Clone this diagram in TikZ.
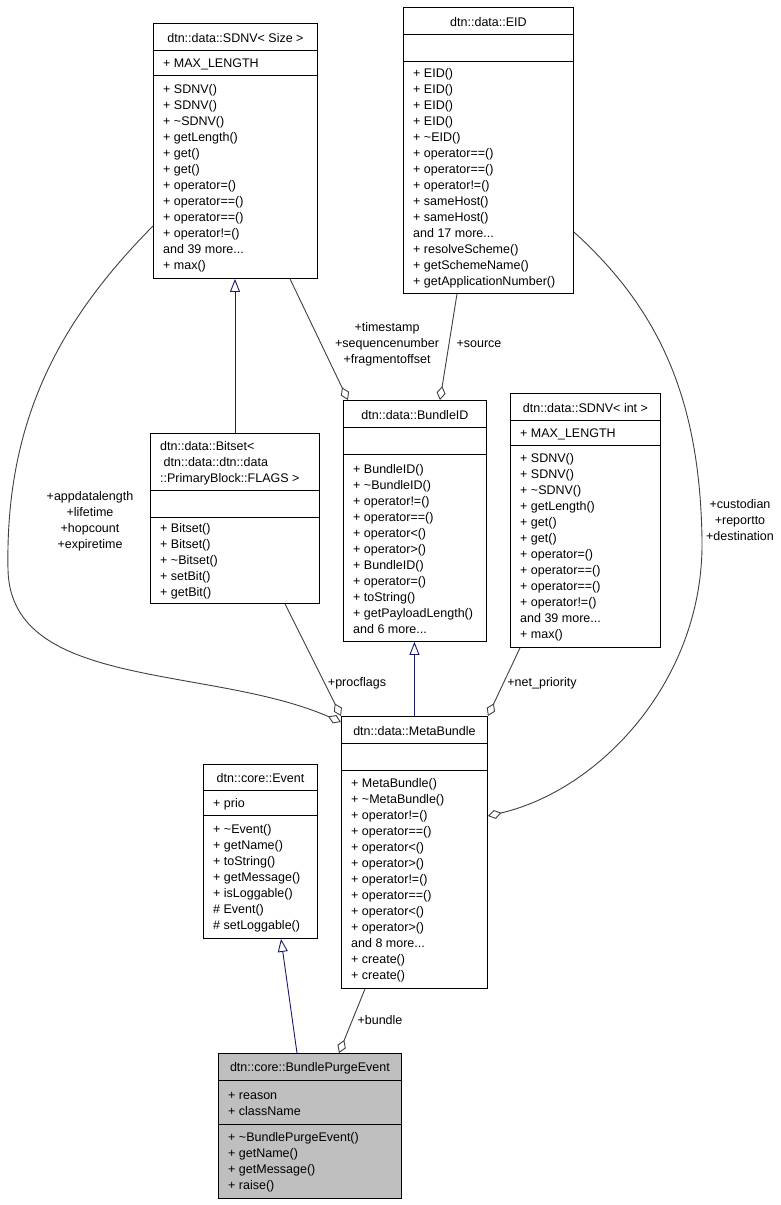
\documentclass[tikz,border=0pt]{standalone}
\usepackage{fontspec}
\setmainfont{Liberation Sans}
\usetikzlibrary{arrows.meta,calc}
\definecolor{inhblue}{HTML}{191970}
\definecolor{compgray}{HTML}{404040}
\definecolor{selfill}{HTML}{BFBFBF}
\tikzset{
 fnt/.style={font=\fontsize{12.5}{16}\selectfont},
 cls/.style={draw=black, line width=0.9pt, inner sep=0pt, anchor=north west, fill=white},
 sep/.style={draw=black, line width=0.9pt},
 ttl/.style={fnt, inner sep=0pt, anchor=center, yshift=-1.5pt},
 mem/.style={fnt, inner sep=0pt, anchor=west, align=left, yshift=-1.5pt},
 inh/.style={draw=inhblue, line width=0.9pt, -{Triangle[open, length=13pt, width=10pt]}},
 comp/.style={draw=compgray, line width=0.9pt, -{Diamond[open, length=14pt, width=9pt]}},
 lbl/.style={fnt, inner sep=0pt, align=center},
}
% name, x, y, w, h1, h2, h3, extra style
\newcommand\clsbox[8]{%
 \node[cls, minimum width=#4, minimum height=#5+#6+#7, #8] (#1) at (#2,#3) {};
 \draw[sep] ($(#1.north west)+(0,#5)$) -- ($(#1.north east)+(0,#5)$);
 \draw[sep] ($(#1.north west)+(0,#5+#6)$) -- ($(#1.north east)+(0,#5+#6)$);
 \coordinate (#1-t) at ($(#1.north)+(0,#5/2)$);
 \coordinate (#1-tl) at ($(#1.north west)+(10,#5/2)$);
 \coordinate (#1-a) at ($(#1.north west)+(10,#5+#6/2)$);
 \coordinate (#1-m) at ($(#1.north west)+(10,#5+#6+#7/2)$);
}
\begin{document}
\begin{tikzpicture}[x=1pt,y=-1pt]
\fill[white] (0,0) rectangle (781,1205);
\useasboundingbox (0,0) rectangle (781,1205);

% ---- classes ----
\clsbox{sdnvs}{153}{23}{164}{27}{25}{203}{}
\node[ttl] (sdnvs-title) at (sdnvs-t) {dtn::data::SDNV< Size >};
\node[mem] (sdnvs-attr) at (sdnvs-a) {+ MAX\_LENGTH};
\node[mem] (sdnvs-meth) at (sdnvs-m) {+ SDNV()\\+ SDNV()\\+ \textasciitilde SDNV()\\+ getLength()\\+ get()\\+ get()\\+ operator=()\\+ operator==()\\+ operator==()\\+ operator!=()\\and 39 more...\\+ max()};

\clsbox{eid}{403}{7}{170}{27}{27}{232}{}
\node[ttl] (eid-title) at (eid-t) {dtn::data::EID};
\node[mem] (eid-meth) at (eid-m) {+ EID()\\+ EID()\\+ EID()\\+ EID()\\+ \textasciitilde EID()\\+ operator==()\\+ operator==()\\+ operator!=()\\+ sameHost()\\+ sameHost()\\and 17 more...\\+ resolveScheme()\\+ getSchemeName()\\+ getApplicationNumber()};

\clsbox{bitset}{150}{433}{169}{57}{27}{86}{}
\node[mem] (bitset-title) at (bitset-tl) {dtn::data::Bitset<\\\hspace*{3.5pt}dtn::data::dtn::data\\::PrimaryBlock::FLAGS >};
\node[mem] (bitset-meth) at (bitset-m) {+ Bitset()\\+ Bitset()\\+ \textasciitilde Bitset()\\+ setBit()\\+ getBit()};

\clsbox{bid}{343}{400}{143}{27}{27}{187}{}
\node[ttl] (bid-title) at (bid-t) {dtn::data::BundleID};
\node[mem] (bid-meth) at (bid-m) {+ BundleID()\\+ \textasciitilde BundleID()\\+ operator!=()\\+ operator==()\\+ operator<()\\+ operator>()\\+ BundleID()\\+ operator=()\\+ toString()\\+ getPayloadLength()\\and 6 more...};

\clsbox{sint}{510}{393}{150}{27}{25}{202}{}
\node[ttl] (sint-title) at (sint-t) {dtn::data::SDNV< int >};
\node[mem] (sint-attr) at (sint-a) {+ MAX\_LENGTH};
\node[mem] (sint-meth) at (sint-m) {+ SDNV()\\+ SDNV()\\+ \textasciitilde SDNV()\\+ getLength()\\+ get()\\+ get()\\+ operator=()\\+ operator==()\\+ operator==()\\+ operator!=()\\and 39 more...\\+ max()};

\clsbox{meta}{341}{716}{146}{27}{27}{218}{}
\node[ttl] (meta-title) at (meta-t) {dtn::data::MetaBundle};
\node[mem] (meta-meth) at (meta-m) {+ MetaBundle()\\+ \textasciitilde MetaBundle()\\+ operator!=()\\+ operator==()\\+ operator<()\\+ operator>()\\+ operator!=()\\+ operator==()\\+ operator<()\\+ operator>()\\and 8 more...\\+ create()\\+ create()};

\clsbox{event}{203}{764}{114}{26}{25}{123}{}
\node[ttl] (event-title) at (event-t) {dtn::core::Event};
\node[mem] (event-attr) at (event-a) {+ prio};
\node[mem] (event-meth) at (event-m) {+ \textasciitilde Event()\\+ getName()\\+ toString()\\+ getMessage()\\+ isLoggable()\\\# Event()\\\# setLoggable()};

\clsbox{bpe}{218}{1053}{183}{27}{44}{74}{fill=selfill}
\node[ttl] (bpe-title) at (bpe-t) {dtn::core::BundlePurgeEvent};
\node[mem] (bpe-attr) at (bpe-a) {+ reason\\+ className};
\node[mem] (bpe-meth) at (bpe-m) {+ \textasciitilde BundlePurgeEvent()\\+ getName()\\+ getMessage()\\+ raise()};

% ---- inheritance ----
\draw[inh] ($(bitset.north west)+(85,0)$) -- ($(sdnvs.south west)+(82,0)$);
\draw[inh] (meta.north) -- (meta.north |- bid.south);
\draw[inh] ($(bpe.north west)+(79,0)$) -- ($(event.south west)+(78,0)$);

% ---- composition ----
\draw[comp] ($(sdnvs.south west)+(137,0)$) -- ($(bid.north west)+(5,0)$);
\node[lbl] (l-ts) at (387,344) {+timestamp\\+sequencenumber\\+fragmentoffset};

\draw[comp] ($(eid.south west)+(54,0)$) -- ($(bid.north west)+(97,0)$);
\node[lbl] (l-src) at (479,344) {+source};

\draw[comp] ($(bitset.south west)+(135,0)$) -- (meta.north west);
\node[lbl] (l-pf) at (357,683) {+procflags};

\draw[comp] ($(sdnvs.north west)+(0,203)$) .. controls (60,320) and (5,420) .. (8,570)
  .. controls (11,690) and (210,665) .. ($(meta.north west)+(0,6)$);
\node[lbl] (l-app) at (90,521) {+appdatalength\\+lifetime\\+hopcount\\+expiretime};

\draw[comp] ($(sint.south west)+(10,0)$) -- (meta.north east);
\node[lbl] (l-np) at (542,683) {+net\_priority};

\draw[comp] ($(eid.north east)+(0,225)$) .. controls (660,310) and (700,400) .. (702,540)
  .. controls (704,680) and (600,790) .. ($(meta.north east)+(0,100)$);
\node[lbl] (l-cu) at (740,520) {+custodian\\+reportto\\+destination};

\draw[comp] ($(meta.south west)+(24,0)$) -- ($(bpe.north west)+(121,0)$);
\node[lbl] (l-bd) at (380,1020) {+bundle};
\end{tikzpicture}
\end{document}
